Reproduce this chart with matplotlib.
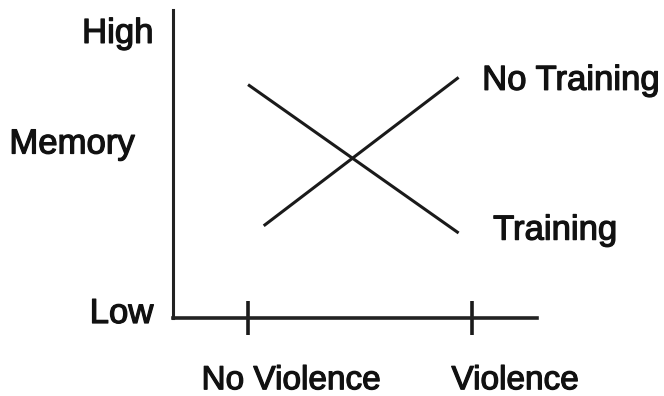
import matplotlib
matplotlib.use("Agg")
import matplotlib.pyplot as plt
import matplotlib.transforms as mtransforms
import matplotlib.patheffects as pe

# categories on the x axis (0 = No Violence, 1 = Violence)
conditions = ["No Violence", "Violence"]
condition_pos = [0, 1]

# memory levels (0 = Low, 10 = High)
memory_ticks = [0, 10]
memory_labels = ["Low", "High"]

# lines
training_x = [0.0, 0.94]
training_y = [8.1, 2.95]
no_training_x = [0.07, 0.94]
no_training_y = [3.2, 8.35]

plt.rcParams["font.family"] = ["Liberation Sans", "DejaVu Sans"]
ink = "#111111"
thick = [pe.withStroke(linewidth=0.9, foreground=ink)]

fig = plt.figure(figsize=(6.64, 3.96), dpi=100)
ax = fig.add_axes([173 / 664, 78 / 396, 364 / 664, 308 / 396])
ax.set_xlim(-0.335, 1.29)
ax.set_ylim(0, 10.69)

ax.plot(training_x, training_y, color="#1a1a1a", lw=2.2, solid_capstyle="butt")
ax.plot(no_training_x, no_training_y, color="#1a1a1a", lw=2.2, solid_capstyle="butt")

for s in ["top", "right"]:
    ax.spines[s].set_visible(False)
ax.spines["left"].set_linewidth(2.2)
ax.spines["bottom"].set_linewidth(2.6)
ax.spines["left"].set_color("#222222")
ax.spines["bottom"].set_color("#222222")

ax.set_xticks(condition_pos)
ax.set_xticklabels(conditions, fontsize=24, color=ink)
ax.tick_params(axis="x", direction="inout", length=24, width=2.6, color="#1a1a1a", pad=22)
offset = mtransforms.ScaledTranslation(43 / 100, 0, fig.dpi_scale_trans)
for lab in ax.get_xticklabels():
    lab.set_transform(lab.get_transform() + offset)
    lab.set_path_effects(thick)

ax.set_yticks(memory_ticks)
ax.set_yticklabels(memory_labels, fontsize=25, color=ink)
ax.tick_params(axis="y", length=0, pad=14)
ylabs = ax.get_yticklabels()
ylabs[0].set_transform(ylabs[0].get_transform()
                       + mtransforms.ScaledTranslation(0, 8 / 100, fig.dpi_scale_trans))
for lab in ylabs:
    lab.set_path_effects(thick)

ax.text(-0.277, 0.565, "Memory", transform=ax.transAxes, fontsize=25,
        color=ink, ha="center", va="center", path_effects=thick)
ax.text(1.045, no_training_y[1] - 0.1, "No Training", fontsize=25, color=ink,
        ha="left", va="center", path_effects=thick)
ax.text(1.094, training_y[1] + 0.1, "Training", fontsize=25, color=ink,
        ha="left", va="center", path_effects=thick)

fig.savefig("out.png", dpi=100)
